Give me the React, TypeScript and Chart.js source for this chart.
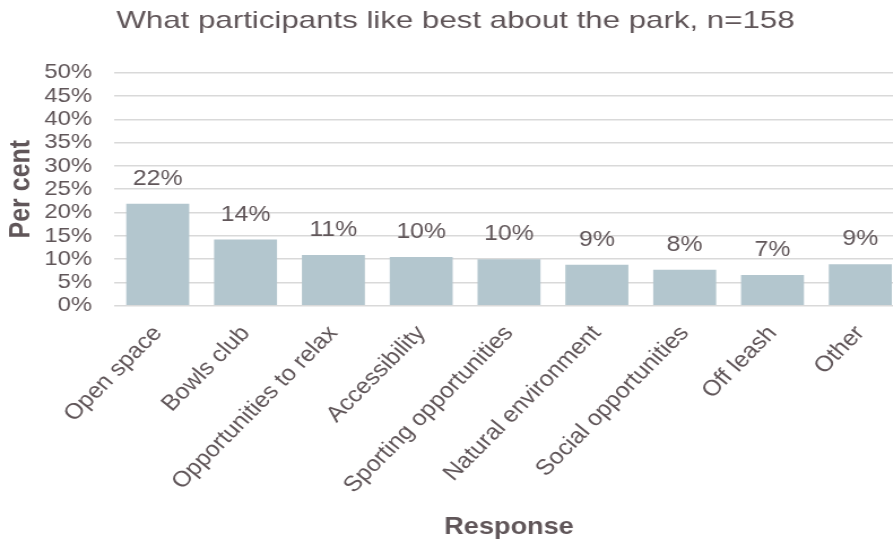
import React, { useEffect, useRef } from 'react';
import { Chart, registerables } from 'chart.js';

Chart.register(...registerables);

// ---- data ----
const chartTitle = 'What participants like best about the park, n=158';
const categories = [
  'Open space',
  'Bowls club',
  'Opportunities to relax',
  'Accessibility',
  'Sporting opportunities',
  'Natural environment',
  'Social opportunities',
  'Off leash',
  'Other',
];
const values = [21.9, 14.2, 10.9, 10.45, 9.96, 8.8, 7.7, 6.6, 8.9];
const yMin = 0;
const yMax = 50;
const yStep = 5;
const xAxisTitle = 'Response';
const yAxisTitle = 'Per cent';

// ---- look ----
const FONT = '"Liberation Sans", Arial, Helvetica, sans-serif';
const TEXT = '#605659';
const BAR = '#b3c6ce';
const GRID = '#d9d9d9';
const STRETCH = 1.13; // the reference text is slightly wide
const CW = 806;
const CH = 547;

const barLabels = {
  id: 'barLabels',
  afterDatasetsDraw(chart: any) {
    const ctx = chart.ctx;
    const meta = chart.getDatasetMeta(0);
    ctx.save();
    ctx.font = `22px ${FONT}`;
    ctx.fillStyle = TEXT;
    ctx.textAlign = 'center';
    ctx.textBaseline = 'middle';
    meta.data.forEach((bar: any, i: number) => {
      ctx.fillText(Math.round(values[i]) + '%', bar.x, bar.y - 25);
    });
    ctx.restore();
  },
};

const wideTitle = {
  id: 'wideTitle',
  afterDraw(chart: any) {
    const ctx = chart.ctx;
    ctx.save();
    ctx.font = `24px ${FONT}`;
    const w = ctx.measureText(chartTitle).width;
    const sx = 600 / w;
    ctx.translate(chart.width / 2, 28);
    ctx.scale(sx, 1);
    ctx.fillStyle = TEXT;
    ctx.textAlign = 'center';
    ctx.textBaseline = 'alphabetic';
    ctx.fillText(chartTitle, 0, 0);
    ctx.restore();
  },
};

export default function App() {
  const ref = useRef<HTMLCanvasElement>(null);

  useEffect(() => {
    if (!ref.current) return;
    const chart = new Chart(ref.current, {
      type: 'bar',
      data: {
        labels: categories,
        datasets: [
          {
            data: values,
            backgroundColor: BAR,
            borderWidth: 0,
            barPercentage: 0.717,
            categoryPercentage: 1,
          },
        ],
      },
      options: {
        responsive: false,
        animation: false,
        devicePixelRatio: 1,
        layout: { padding: { top: 72.7, right: 6, bottom: 0, left: 0 } },
        plugins: {
          legend: { display: false },
          title: { display: false },
          tooltip: { enabled: false },
        },
        scales: {
          x: {
            grid: { display: false, drawTicks: false },
            border: { display: false },
            ticks: {
              autoSkip: false,
              minRotation: 48.5,
              maxRotation: 48.5,
              padding: 15,
              color: TEXT,
              font: { family: FONT, size: 22 },
            },
            title: {
              display: true,
              text: xAxisTitle,
              color: TEXT,
              font: { family: FONT, size: 24, weight: 'bold' },
              padding: { top: 0, bottom: 5 },
            },
            afterFit(s: any) {
              s.height = CH - 305.7;
            },
          },
          y: {
            min: yMin,
            max: yMax,
            grid: { color: GRID, lineWidth: 1.5, drawTicks: false },
            border: { display: false },
            ticks: {
              stepSize: yStep,
              autoSkip: false,
              padding: 19.3,
              color: TEXT,
              font: { family: FONT, size: 21, lineHeight: 0.9 },
              callback: (v: any) => v + '%',
            },
            title: {
              display: true,
              text: yAxisTitle,
              color: TEXT,
              font: { family: FONT, size: 25, weight: 'bold' },
              padding: { top: 4.5, bottom: 0 },
            },
            afterFit(s: any) {
              s.width = 100.7;
            },
          },
        },
      } as any,
      plugins: [barLabels, wideTitle],
    });
    return () => chart.destroy();
  }, []);

  return (
    <div
      style={{
        position: 'fixed',
        left: 0,
        top: 0,
        width: 893,
        height: 547,
        overflow: 'hidden',
        background: '#fff',
      }}
    >
      <canvas
        ref={ref}
        width={CW}
        height={CH}
        style={{ width: `${CW * STRETCH}px`, height: `${CH}px`, display: 'block' }}
      />
    </div>
  );
}
